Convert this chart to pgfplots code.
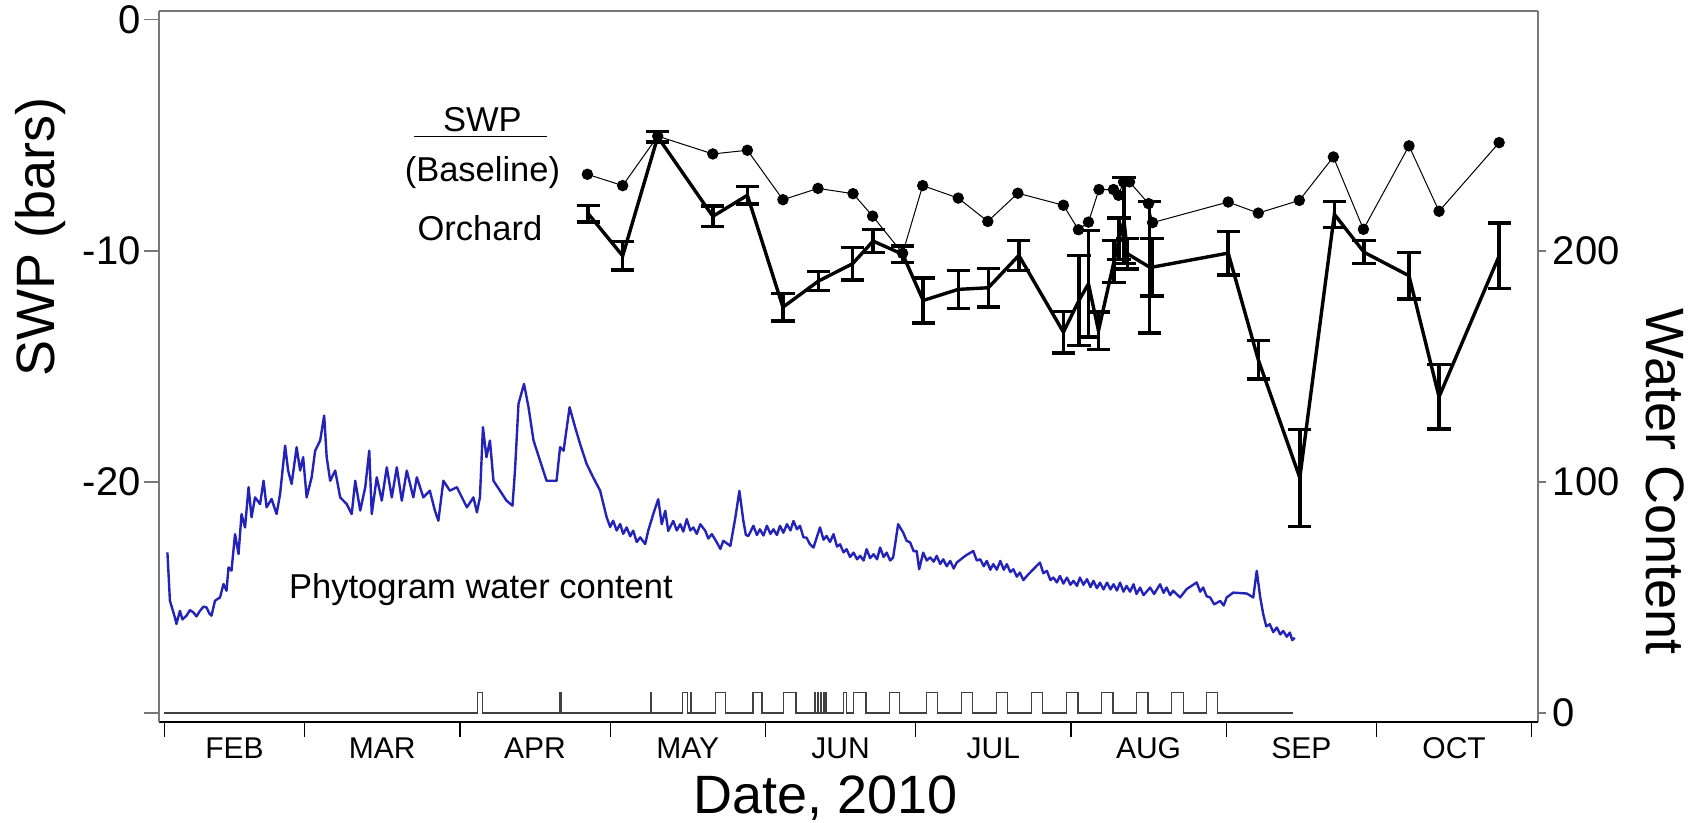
\documentclass[border=0pt]{standalone}
\usepackage{pgfplots}
\pgfplotsset{compat=1.18}
\usepackage{fontspec}
\setmainfont{Liberation Sans}
\definecolor{wcblue}{RGB}{35,35,185}
\definecolor{axgray}{RGB}{120,120,120}
\begin{document}
\begin{tikzpicture}
\useasboundingbox (-79.45pt,-50.6pt) rectangle (774.05pt,360.9pt);
% right axis: water content
\begin{axis}[
  at={(0,0)}, anchor=south west,
  scale only axis, width=689.65pt, height=355.45pt,
  xmin=30.9, xmax=306.3, ymin=-3.8, ymax=303.8,
  axis x line=none,
  axis y line*=right,
  y axis line style={draw=axgray, line width=0.8pt},
  ytick={0,100,200}, yticklabels={0,100,200},
  ytick style={draw=axgray, line width=0.8pt},
  tick align=outside, major tick length=3.8pt,
  yticklabel style={font=\fontsize{20}{24}\selectfont},
  ylabel={Water Content},
  every axis y label/.style={at={(axis description cs:1.092,0.338)}, rotate=-90, anchor=center, font=\fontsize{27}{32}\selectfont},
  clip=false,
]
\addplot[wcblue, line width=1.2pt, line join=round] coordinates {
(32.6,69.5)(33.1,48.6)(34.1,41.3)(34.4,38.5)(35.1,44.2)(35.6,40.5)(36.4,42.1)(37.1,44.5)(37.8,43.5)(38.4,41.8)(39.1,44.2)(39.8,46.0)(40.4,45.7)(41.0,43.0)(41.4,42.1)(42.1,48.6)(43.1,50.0)(43.8,55.8)(44.4,52.9)(44.8,63.0)(45.4,61.6)(46.1,77.4)(46.8,68.8)(47.4,86.1)(48.1,80.3)(48.8,97.7)(49.4,84.7)(50.1,93.3)(51.1,90.4)(51.8,100.5)(52.4,89.0)(53.4,92.6)(54.4,86.1)(55.1,94.8)(56.1,115.7)(56.7,104.9)(57.4,99.1)(58.4,115.0)(59.1,104.9)(59.7,110.7)(60.4,93.3)(61.4,102.0)(62.1,113.5)(63.1,117.9)(63.9,128.7)(64.4,110.7)(65.1,100.5)(66.1,104.9)(67.1,93.3)(68.4,90.4)(69.4,86.1)(70.1,100.5)(71.1,87.6)(72.1,97.7)(72.9,113.5)(73.4,86.1)(74.4,102.0)(75.4,91.9)(76.4,106.3)(77.4,93.3)(78.4,106.3)(79.4,91.9)(80.4,104.9)(81.7,93.3)(82.4,102.0)(83.7,93.3)(85.0,96.2)(86.0,87.6)(86.7,83.2)(87.7,100.5)(89.0,96.2)(90.4,97.7)(91.4,93.3)(92.4,89.0)(93.7,93.3)(94.4,86.8)(95.0,93.3)(95.6,123.7)(96.3,110.7)(97.0,117.9)(97.7,100.5)(99.0,96.2)(100.3,91.9)(101.5,89.7)(102.0,104.9)(102.7,133.8)(103.8,142.4)(104.7,132.3)(105.7,117.9)(107.0,109.2)(108.3,100.5)(110.3,100.5)(111.0,115.0)(111.7,113.5)(112.9,132.3)(114.0,123.7)(115.0,116.4)(116.3,107.8)(117.6,102.0)(119.0,96.2)(120.3,84.7)(121.0,80.5)(121.6,83.2)(122.3,79.0)(123.0,81.8)(123.6,77.5)(124.3,80.3)(125.0,76.5)(125.6,78.9)(126.3,74.0)(127.0,76.0)(128.0,73.1)(128.6,78.9)(129.6,86.0)(130.6,92.5)(131.3,81.7)(132.0,87.5)(132.6,78.8)(133.6,83.1)(134.3,79.0)(135.0,81.7)(135.6,78.5)(136.3,83.9)(137.0,79.0)(137.6,80.3)(138.3,77.5)(139.0,81.7)(140.0,78.8)(140.6,75.5)(141.3,77.4)(142.3,73.8)(143.0,71.0)(143.6,74.5)(145.0,72.3)(146.0,84.6)(146.8,96.1)(147.6,83.1)(148.1,77.0)(148.6,76.6)(149.6,81.0)(150.3,77.0)(150.9,79.5)(151.6,76.8)(152.3,81.0)(153.0,77.5)(153.6,79.5)(154.3,77.0)(154.9,81.0)(155.6,78.0)(156.3,81.7)(157.0,79.0)(157.6,83.1)(158.3,79.5)(158.9,81.0)(159.6,76.0)(160.2,75.9)(160.9,73.0)(161.6,71.6)(162.9,80.3)(163.6,75.0)(164.2,76.6)(164.9,74.0)(165.6,77.4)(166.3,72.0)(166.9,73.0)(167.6,69.5)(168.2,70.9)(168.9,67.5)(169.6,69.4)(170.3,66.5)(170.9,68.0)(171.6,66.0)(172.2,70.9)(172.9,67.0)(173.6,68.7)(174.3,66.5)(174.9,71.6)(175.6,67.5)(176.2,69.4)(176.9,66.0)(177.5,67.3)(178.5,81.7)(179.5,78.1)(180.2,74.5)(180.9,73.8)(181.6,70.0)(182.2,70.1)(182.7,62.2)(183.5,69.4)(184.2,66.0)(184.9,67.3)(185.6,65.5)(186.2,68.0)(186.9,64.5)(187.5,66.5)(188.2,63.5)(188.9,65.8)(189.6,62.5)(190.2,65.1)(191.9,68.0)(193.5,70.1)(194.2,66.0)(194.9,66.5)(195.6,63.5)(196.2,65.8)(196.9,62.0)(197.5,64.4)(198.2,62.0)(198.9,65.8)(199.6,62.0)(200.2,64.4)(200.9,61.0)(201.5,62.2)(202.2,59.0)(202.8,60.8)(203.5,57.5)(204.2,59.3)(205.5,62.2)(206.8,65.1)(207.5,60.5)(208.2,61.5)(208.9,57.5)(209.5,58.6)(210.2,56.5)(210.8,59.3)(211.5,56.0)(212.2,58.6)(212.9,55.5)(213.5,57.2)(214.2,55.0)(214.8,58.6)(215.5,55.5)(216.2,57.9)(216.9,54.5)(217.5,57.2)(218.2,54.0)(218.8,56.4)(219.5,53.5)(220.2,56.4)(220.9,53.5)(221.5,55.7)(222.2,53.0)(222.8,56.4)(223.5,52.5)(224.1,55.0)(224.8,52.5)(225.5,55.7)(226.1,51.5)(226.8,54.3)(227.5,51.0)(228.5,53.5)(228.8,54.3)(229.6,51.5)(230.8,55.7)(231.5,52.0)(232.1,54.3)(232.8,51.0)(233.4,52.9)(234.8,50.0)(236.1,53.6)(238.1,56.5)(238.8,52.5)(239.4,54.3)(240.1,50.5)(240.8,50.0)(241.6,47.0)(242.8,48.5)(243.5,46.5)(244.1,50.0)(245.4,52.1)(248.1,51.7)(249.4,50.0)(250.1,61.5)(250.8,50.0)(251.4,42.7)(252.0,37.5)(252.7,38.4)(253.4,35.0)(254.1,37.0)(254.8,34.0)(255.4,35.5)(256.1,33.0)(256.7,34.8)(257.2,31.5)(257.7,32.6)
};
\addplot[black!75, line width=0.6pt] coordinates {
(32,0)(94.5,0)(94.5,9)(95.5,9)(95.5,0)(111.0,0)(111.0,9)(111.2,9)(111.2,0)(129.0,0)(129.0,9)(129.2,9)(129.2,0)
(135.5,0)(135.5,9)(136.5,9)(136.5,0)(137.0,0)(137.0,9)(137.2,9)(137.2,0)
(142.1,0)(142.1,9)(144.1,9)(144.1,0)(149.5,0)(149.5,9)(151.3,9)(151.3,0)(155.6,0)(155.6,9)(158.1,9)(158.1,0)
(161.9,0)(161.9,9)(162.0,9)(162.0,0)(162.5,0)(162.5,9)(162.6,9)(162.6,0)(163.1,0)(163.1,9)(163.2,9)(163.2,0)(163.6,0)(163.6,9)(163.7,9)(163.7,0)(164.1,0)(164.1,9)(164.2,9)(164.2,0)
(167.6,0)(167.6,9)(168.2,9)(168.2,0)(169.6,0)(169.6,9)(172.1,9)(172.1,0)(176.8,0)(176.8,9)(178.8,9)(178.8,0)
(184.1,0)(184.1,9)(186.4,9)(186.4,0)(191.1,0)(191.1,9)(193.4,9)(193.4,0)(198.1,0)(198.1,9)(200.4,9)(200.4,0)
(205.1,0)(205.1,9)(207.4,9)(207.4,0)(212.1,0)(212.1,9)(214.4,9)(214.4,0)(219.1,0)(219.1,9)(221.4,9)(221.4,0)
(226.1,0)(226.1,9)(228.4,9)(228.4,0)(233.1,0)(233.1,9)(235.4,9)(235.4,0)(240.1,0)(240.1,9)(242.3,9)(242.3,0)(257.4,0)
};
\node[anchor=west, font=\fontsize{17.25}{20}\selectfont] at (axis cs:55.5,53.5) {Phytogram water content};
\end{axis}
% left axis: SWP
\begin{axis}[
  at={(0,0)}, anchor=south west,
  scale only axis, width=689.65pt, height=355.45pt,
  xmin=30.9, xmax=306.3, ymin=-30.38, ymax=0.38,
  axis x line*=bottom, axis y line*=left,
  x axis line style={draw=black, line width=0.8pt},
  y axis line style={draw=axgray, line width=0.8pt},
  xtick={32,60,91,121,152,182,213,244,274,305}, xticklabels={},
  extra x ticks={46,75.5,106,136.5,167,197.5,228.5,259,289.5},
  extra x tick labels={FEB,MAR,APR,MAY,JUN,JUL,AUG,SEP,OCT},
  extra x tick style={major tick length=0pt, xticklabel style={anchor=base, yshift=-18.5pt}},
  x tick label style={font=\fontsize{15}{17}\selectfont},
  xtick style={draw=black, line width=0.6pt},
  ytick={0,-10,-20,-30}, yticklabels={0,-10,-20,{}},
  ytick style={draw=axgray, line width=0.8pt},
  tick align=outside, major tick length=7.6pt,
  y tick label style={font=\fontsize{20}{24}\selectfont, xshift=2pt},
  xlabel={Date, 2010}, ylabel={SWP (bars)},
  every axis x label/.style={at={(axis description cs:0.483,-0.107)}, anchor=center, font=\fontsize{27}{32}\selectfont},
  every axis y label/.style={at={(axis description cs:-0.086,0.682)}, rotate=90, anchor=center, font=\fontsize{27}{32}\selectfont},
  clip=false,
]
\draw[axgray, line width=0.8pt] (rel axis cs:0,1) -- (rel axis cs:1,1);
\addplot[black, line width=0.5pt, mark=*, mark size=2.6pt] coordinates {
(116.45,-6.69)(123.5,-7.18)(130.5,-5.04)(141.5,-5.81)(148.4,-5.65)(155.5,-7.79)(162.5,-7.30)(169.5,-7.53)(173.4,-8.50)(179.4,-10.11)(183.4,-7.18)(190.5,-7.72)(196.4,-8.73)(202.4,-7.51)(211.5,-8.03)(214.5,-9.09)(216.5,-8.76)(218.6,-7.35)(221.5,-7.35)(222.5,-7.60)(223.5,-7.02)(224.7,-7.02)(228.5,-7.96)(229.3,-8.78)(244.4,-7.89)(250.4,-8.37)(258.6,-7.82)(265.4,-5.94)(271.4,-9.07)(280.5,-5.46)(286.5,-8.29)(298.5,-5.32)
};
\addplot[black, line width=1.7pt, mark=none,
  error bars/.cd, y dir=both, y explicit,
  error bar style={line width=1.7pt},
  error mark options={rotate=90, mark size=5.8pt, line width=1.7pt}] coordinates {
(116.6,-8.39) +- (0,0.36)
(123.5,-10.22) +- (0,0.62)
(130.5,-5.07) +- (0,0.22)
(141.5,-8.51) +- (0,0.45)
(148.4,-7.60) +- (0,0.38)
(155.5,-12.44) +- (0,0.60)
(162.6,-11.31) +- (0,0.42)
(169.4,-10.56) +- (0,0.71)
(173.5,-9.58) +- (0,0.50)
(179.4,-10.15) +- (0,0.35)
(183.5,-12.15) +- (0,0.97)
(190.5,-11.67) +- (0,0.82)
(196.5,-11.60) +- (0,0.84)
(202.6,-10.20) +- (0,0.65)
(211.5,-13.52) +- (0,0.90)
(214.6,-12.15) +- (0,1.95)
(216.5,-11.43) +- (0,2.30)
(218.5,-13.46) +- (0,0.81)
(221.6,-10.46) +- (0,0.91)
(222.6,-9.48) +- (0,0.90)
(223.6,-8.70) +- (0,1.86)
(224.3,-10.13) +- (0,0.65)
(228.7,-10.71) +- (0,2.85)
(229.2,-10.71) +- (0,1.24)
(244.4,-10.10) +- (0,0.94)
(250.4,-14.71) +- (0,0.83)
(258.7,-19.82) +- (0,2.10)
(265.6,-8.42) +- (0,0.56)
(271.5,-10.06) +- (0,0.50)
(280.5,-11.08) +- (0,1.00)
(286.5,-16.32) +- (0,1.39)
(298.5,-10.22) +- (0,1.42)
};
\node[font=\fontsize{17.25}{20}\selectfont] at (axis cs:95.5,-4.34) {SWP};
\draw[black, line width=0.8pt] (axis cs:81.8,-5.05) -- (axis cs:108.3,-5.05);
\node[font=\fontsize{17.25}{20}\selectfont] at (axis cs:95.5,-6.60) {(Baseline)};
\node[font=\fontsize{17.25}{20}\selectfont] at (axis cs:95.0,-9.01) {Orchard};
\end{axis}
\end{tikzpicture}
\end{document}
